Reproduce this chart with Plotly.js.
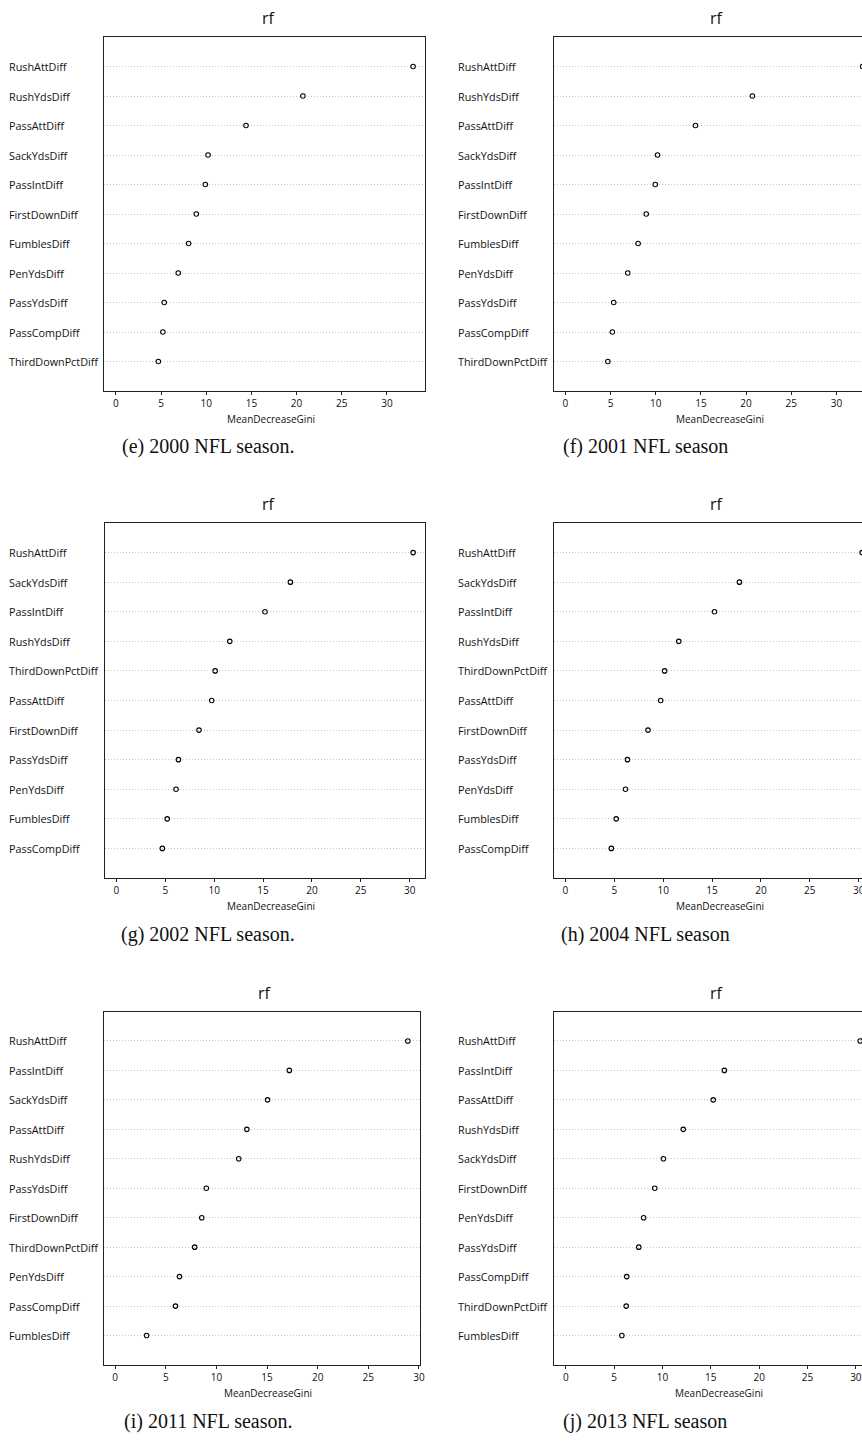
<!DOCTYPE html>
<html><head><meta charset="utf-8">
<script src="https://cdn.plot.ly/plotly-3.0.1.min.js"></script>
<style>html,body{margin:0;padding:0;overflow:hidden;background:#fff}#chart{width:880px;height:1443px}</style>
</head><body><div id="chart"></div>
<script>
// ---- data (top-to-bottom order as in each dot chart) ----
const vars2000 = ["RushAttDiff","RushYdsDiff","PassAttDiff","SackYdsDiff","PassIntDiff","FirstDownDiff","FumblesDiff","PenYdsDiff","PassYdsDiff","PassCompDiff","ThirdDownPctDiff"];
const gini2000 = [32.9,20.7,14.4,10.2,9.9,8.9,8.05,6.9,5.35,5.2,4.7];
const vars2001 = ["RushAttDiff","RushYdsDiff","PassAttDiff","SackYdsDiff","PassIntDiff","FirstDownDiff","FumblesDiff","PenYdsDiff","PassYdsDiff","PassCompDiff","ThirdDownPctDiff"];
const gini2001 = [32.9,20.7,14.4,10.2,9.95,8.95,8.05,6.9,5.35,5.2,4.7];
const vars2002 = ["RushAttDiff","SackYdsDiff","PassIntDiff","RushYdsDiff","ThirdDownPctDiff","PassAttDiff","FirstDownDiff","PassYdsDiff","PenYdsDiff","FumblesDiff","PassCompDiff"];
const gini2002 = [30.35,17.8,15.2,11.6,10.1,9.75,8.45,6.35,6.1,5.2,4.7];
const vars2004 = ["RushAttDiff","SackYdsDiff","PassIntDiff","RushYdsDiff","ThirdDownPctDiff","PassAttDiff","FirstDownDiff","PassYdsDiff","PenYdsDiff","FumblesDiff","PassCompDiff"];
const gini2004 = [30.35,17.8,15.25,11.6,10.15,9.75,8.45,6.35,6.15,5.2,4.7];
const vars2011 = ["RushAttDiff","PassIntDiff","SackYdsDiff","PassAttDiff","RushYdsDiff","PassYdsDiff","FirstDownDiff","ThirdDownPctDiff","PenYdsDiff","PassCompDiff","FumblesDiff"];
const gini2011 = [28.9,17.2,15.05,13.0,12.2,9.0,8.55,7.85,6.35,5.95,3.1];
const vars2013 = ["RushAttDiff","PassIntDiff","PassAttDiff","RushYdsDiff","SackYdsDiff","FirstDownDiff","PenYdsDiff","PassYdsDiff","PassCompDiff","ThirdDownPctDiff","FumblesDiff"];
const gini2013 = [30.45,16.4,15.25,12.15,10.1,9.2,8.05,7.55,6.3,6.25,5.8];
const xTicks = [0,5,10,15,20,25,30];
const plotTitle = "rf";
const xLabel = "MeanDecreaseGini";
const captions = ["(e) 2000 NFL season.","(f) 2001 NFL season","(g) 2002 NFL season.","(h) 2004 NFL season","(i) 2011 NFL season.","(j) 2013 NFL season"];

// ---- layout geometry (pixels) ----
const W = 880, H = 1443;
const panels = [
  {names: vars2000, vals: gini2000, box:[104,425,37,391],      labelX:7,   titleX:269, capX:208},
  {names: vars2001, vals: gini2001, box:[553.5,874.5,37,391],  labelX:456, titleX:717, capX:645},
  {names: vars2002, vals: gini2002, box:[104.5,425,523,878],   labelX:7,   titleX:269, capX:208},
  {names: vars2004, vals: gini2004, box:[553.5,874,523,878],   labelX:456, titleX:717, capX:645},
  {names: vars2011, vals: gini2011, box:[103.5,419.5,1011.5,1365], labelX:7, titleX:265, capX:208},
  {names: vars2013, vals: gini2013, box:[554,872,1011.5,1365], labelX:456, titleX:717, capX:645}
];

const font = "Open Sans, Noto Sans, sans-serif";
const data = [], annotations = [];
const layout = {
  width: W, height: H, margin:{l:0,r:0,t:0,b:0},
  paper_bgcolor:'#fff', plot_bgcolor:'#fff', showlegend:false,
  font:{family:font, color:'#111', size:10}, annotations
};
panels.forEach((p, i) => {
  const k = i === 0 ? '' : String(i+1);
  const [x0,x1,y0,y1] = p.box;
  const mx = Math.max(...p.vals);
  data.push({
    type:'scatter', mode:'markers', x:p.vals, y:p.names,
    xaxis:'x'+k, yaxis:'y'+k, hoverinfo:'skip',
    marker:{symbol:'circle-open', size:4.5, color:'#000', line:{width:1.1, color:'#000'}}
  });
  layout['xaxis'+k] = {
    domain:[x0/W, x1/W], anchor:'y'+k, range:[-0.04*mx, 1.04*mx],
    tickmode:'array', tickvals:xTicks, ticks:'outside', ticklen:3, tickwidth:1, tickcolor:'#222',
    showline:true, mirror:true, linecolor:'#222', linewidth:1,
    showgrid:false, zeroline:false, fixedrange:true,
    tickfont:{size:10, family:font, color:'#111'}
  };
  layout['yaxis'+k] = {
    domain:[1-y1/H, 1-y0/H], anchor:'x'+k, type:'category',
    categoryorder:'array', categoryarray:p.names, range:[p.names.length, -1],
    showline:true, mirror:true, linecolor:'#222', linewidth:1,
    showgrid:true, gridcolor:'#c8c8c8', gridwidth:1, griddash:'1px,2px',
    zeroline:false, ticks:'', showticklabels:false, fixedrange:true
  };
  // left-aligned row labels, one per category
  p.names.forEach(n => annotations.push({text:n, xref:'paper', yref:'y'+k, x:p.labelX/W, y:n,
    xanchor:'left', yanchor:'middle', showarrow:false, font:{size:10.8, family:font, color:'#111'}}));
  annotations.push({text:plotTitle, xref:'paper', yref:'paper', x:p.titleX/W, y:1-(y0-19)/H,
    xanchor:'center', yanchor:'middle', showarrow:false, font:{size:16, family:font, color:'#111'}});
  annotations.push({text:xLabel, xref:'paper', yref:'paper', x:(x0+x1)/2/W + 6/W, y:1-(y1+28)/H,
    xanchor:'center', yanchor:'middle', showarrow:false, font:{size:10, family:font, color:'#111'}});
  annotations.push({text:captions[i], xref:'paper', yref:'paper', x:p.capX/W, y:1-(y1+56)/H,
    xanchor:'center', yanchor:'middle', showarrow:false, font:{size:20, family:'Liberation Serif, serif', color:'#111'}});
});
Plotly.newPlot('chart', data, layout, {displayModeBar:false, staticPlot:true});
</script></body></html>
